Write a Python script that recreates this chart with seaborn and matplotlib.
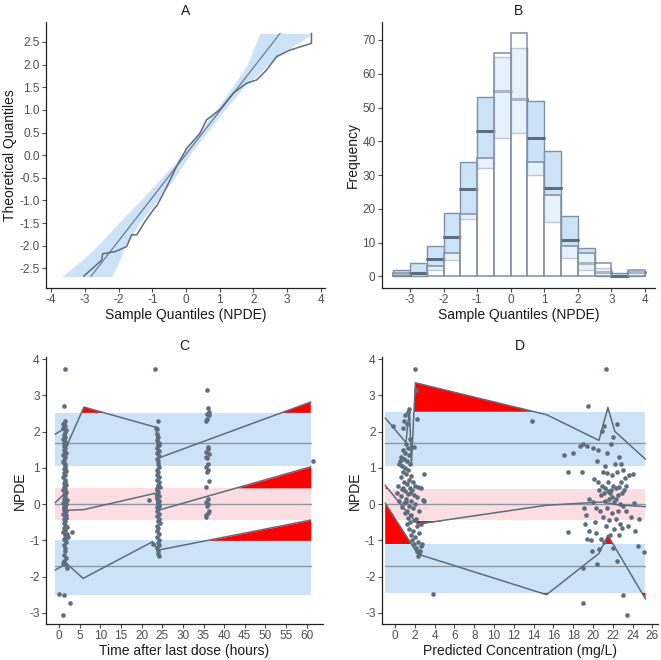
import numpy as np
import pandas as pd
import matplotlib
matplotlib.use("Agg")
import matplotlib.pyplot as plt
import seaborn as sns

# ---> Data <---
# - A: QQ plot -
qq_sample = [-3.04, -2.5, -2.47, -2.1, -1.76, -1.61, -1.46, -1.2, -0.97, -0.85, -0.57, -0.28, 0.02, 0.41, 0.61, 1.0, 1.4, 1.8, 2.09, 2.39, 2.69, 3.08, 3.72, 3.72]
qq_theor = [-2.68, -2.32, -2.18, -2.13, -2.02, -1.76, -1.76, -1.45, -1.21, -1.1, -0.7, -0.25, 0.15, 0.48, 0.78, 1.0, 1.37, 1.59, 1.66, 1.88, 2.18, 2.32, 2.47, 2.69]
ref_x = [-2.82, 2.79]
ref_y = [-2.68, 2.69]
band_y = [-2.68, -2.3, -2.0, -1.5, -1.0, -0.5, 0.0, 0.5, 1.0, 1.5, 2.0, 2.3, 2.69]
band_lo = [-3.68, -3.05, -2.62, -2.0, -1.35, -0.72, -0.12, 0.38, 0.88, 1.38, 1.82, 1.98, 2.19]
band_hi = [-2.2, -1.95, -1.8, -1.38, -0.85, -0.33, 0.1, 0.62, 1.15, 1.72, 2.45, 2.95, 3.77]

# - B: histogram -
bin_left = [-3.5, -3.0, -2.5, -2.0, -1.5, -1.0, -0.5, 0.0, 0.5, 1.0, 1.5, 2.0, 2.5, 3.0, 3.5]
obs_count = [1, 0, 3, 7, 18.4, 35, 66, 72, 34, 24.2, 9, 6.9, 3.9, 0, 2]
pi_lo = [0, 0, 1.8, 4.9, 17, 32, 41, 42.4, 30, 16, 5.4, 2.0, 0, 0, 0]
pi_med = [0.5, 1.0, 5.1, 11.8, 25.8, 43, 55, 52.6, 41, 26.1, 10.8, 3.9, 1.2, 0.2, 1.2]
pi_hi = [2.0, 3.9, 8.9, 18.9, 34, 53, 65, 67.6, 52, 37, 17.9, 8.4, 2.5, 1.0, 1.2]

# - C: NPDE vs time after last dose -
c_time = [1.5, 1.1, 1.3, 1.2, 1.0, 1.4, 0.9, 1.6, 1.3, 1.2, 1.5, 1.0, 1.4, 1.7, 1.2, 1.5, 1.1, 1.3, 1.6, 0.9,
          1.4, 1.2, 1.0, 1.5, 1.3, 1.1, 1.6, 1.2, 1.4, 1.0, 1.5, 1.3, 1.1, 1.7, 1.2, 1.4, 0.9, 1.6, 1.3, 1.1,
          1.5, 1.2, 1.8, 1.4, 1.0, 1.6, 1.3, 1.1, 1.5, 1.2, 1.7, 1.4, 1.0, 1.3, 1.6, 1.2, 1.5, 1.1, 1.4, 1.8,
          1.2, 1.5, 1.0, 2.0, 1.3, 1.6, 1.1, 1.4, 1.7, 1.2, 1.5, 1.3, 1.1, 1.6, 1.2, 1.4, 1.0, 1.8, 3.0, 2.2,
          0.0, 1.2, 2.7, 1.0, 1.3, 1.5, 1.2, 1.4, 1.1, 1.6,
          23.2, 23.9, 23.4, 23.6, 23.8, 24.0, 23.7, 24.2, 23.9, 23.6, 24.1, 23.8, 24.3, 23.7, 24.0, 23.9, 24.2,
          23.6, 24.0, 23.8, 24.3, 23.7, 24.1, 23.9, 24.4, 23.6, 24.0, 23.8, 24.2, 23.7, 24.1, 23.9, 24.3, 23.6,
          24.0, 23.8, 24.2, 23.7, 24.1, 23.9, 24.4, 23.6, 24.0, 23.8, 24.2, 23.7, 24.1, 23.9, 24.3, 23.8, 24.0,
          23.9, 24.1, 21.8, 22.7, 24.3, 23.8, 24.2,
          35.8, 36.1, 36.3, 35.9, 36.4, 35.9, 35.6, 36.2, 36.0, 35.7, 36.3, 35.5, 35.9, 36.1, 35.6, 36.2, 35.8,
          36.4, 35.7, 36.0, 35.6, 36.2, 35.9, 36.3, 36.1, 35.7, 35.5,
          61.5]
c_npde = [3.72, 2.72, 2.3, 2.25, 2.2, 2.15, 2.1, 2.05, 1.98, 1.9, 1.85, 1.8, 1.72, 1.65, 1.6, 1.55, 1.5, 1.45, 1.4, 1.35,
          1.3, 1.22, 1.15, 1.12, 1.05, 0.98, 0.92, 0.86, 0.8, 0.74, 0.68, 0.62, 0.57, 0.52, 0.47, 0.42, 0.38, 0.33, 0.28, 0.24,
          0.2, 0.15, 0.12, 0.08, 0.04, 0.0, -0.04, -0.08, -0.12, -0.16, -0.2, -0.24, -0.28, -0.33, -0.38, -0.42, -0.47, -0.52, -0.57, -0.62,
          -0.67, -0.72, -0.78, -0.82, -0.86, -0.9, -0.95, -1.0, -1.05, -1.12, -1.2, -1.3, -1.4, -1.5, -1.58, -1.65, -1.62, -1.75, -0.77, -0.9,
          -2.48, -2.5, -2.72, -3.05, 0.55, 0.3, -0.1, 1.0, 1.7, -0.3,
          3.72, 2.3, 2.1, 2.08, 1.95, 1.85, 1.78, 1.7, 1.62, 1.55, 1.48, 1.4, 1.33, 1.25, 1.18, 1.1, 1.02,
          0.95, 0.88, 0.8, 0.74, 0.67, 0.6, 0.53, 0.47, 0.4, 0.34, 0.28, 0.22, 0.16, 0.1, 0.04, -0.02, -0.08,
          -0.14, -0.2, -0.27, -0.33, -0.4, -0.47, -0.53, -0.6, -0.67, -0.74, -0.82, -0.9, -0.98, -1.06, -1.14, -1.22, -1.3,
          -1.38, -1.43, 0.12, -1.1, 1.62, 0.45, -0.05,
          3.15, 2.65, 2.55, 2.48, 2.45, 2.35, 2.3, 1.58, 1.52, 1.45, 1.38, 1.3, 1.28, 1.12, 1.02, 0.95, 0.9,
          0.65, 0.48, 0.15, 0.05, 0.0, -0.05, -0.18, -0.25, -0.3, -0.35,
          1.2]
c_band_x = [-1.0, 61.0]
c_bands = {"upper": (1.05, 2.52, 1.7), "middle": (-0.43, 0.45, 0.0), "lower": (-2.52, -1.0, -1.7)}
c_p95_x = [-1.0, 1.5, 1.8, 6.0, 23.5, 24.0, 61.0]
c_p95_y = [1.93, 2.1, 1.6, 2.68, 2.12, 1.27, 2.82]
c_p50_x = [-1.0, 1.4, 1.8, 6.0, 23.3, 24.0, 61.0]
c_p50_y = [0.04, 0.3, -0.17, -0.15, 0.3, -0.17, 1.03]
c_p05_x = [-1.0, 1.8, 5.8, 22.6, 24.0, 61.0]
c_p05_y = [-1.82, -1.64, -2.05, -1.04, -1.27, -0.44]

# - D: NPDE vs predicted concentration -
d_pred = [-0.2, 1.0, 0.9, 1.4, 1.3, 1.2, 0.8, 1.5, 1.1, 1.3, 0.8, 1.0, 1.4, 0.6, 0.9, 1.2, 0.5, 1.5, 0.7, 1.0,
          0.4, 1.3, 0.8, 1.1, 1.6, 0.6, 1.4, 1.8, 0.9, 1.2, 2.0, 0.3, 1.5, 2.3, 0.7, 1.7, 1.0, 2.6, 0.2, 1.3,
          1.9, 0.6, 2.2, 1.1, 2.8, 0.4, 1.6, 2.9, 0.9, 2.0, 1.4, 0.7, 1.8, 1.2, 2.4, 1.0, 1.6, 1.3, 2.1, 1.5,
          1.2, 2.2, 1.4, 1.8, 2.4, 1.6, 2.0, 1.7, 2.3, 1.9, 2.6, 2.1, 2.2, 2.4, 2.3, 2.7, 2.5, 1.9, 2.2, 2.0,
          2.15, 2.9, 3.8, 1.1, 1.5, 0.8, 1.9, 2.6,
          13.8, 19.5, 21.3, 17.1, 17.5, 17.5, 18.0, 18.7, 19.0, 18.9, 19.0, 19.0, 19.4, 19.6, 19.1, 19.3, 19.2,
          19.6, 19.4, 19.8, 19.9, 20.1, 20.0, 20.2, 20.3, 20.4, 20.5, 20.5, 20.6, 20.8, 20.7, 20.6, 20.4, 20.9,
          21.1, 21.2, 21.0, 20.9, 21.1, 21.2, 21.0, 21.3, 21.1, 21.4, 21.5, 21.5, 21.6, 21.4, 21.6, 21.7, 21.8,
          21.8, 21.9, 21.9, 22.0, 22.0, 22.1, 22.1, 22.2, 22.3, 22.3, 22.4, 22.4, 22.5, 22.4, 22.6, 22.6, 22.7,
          22.7, 22.8, 22.8, 22.9, 22.9, 23.0, 23.0, 23.1, 23.0, 23.2, 23.3, 23.4, 23.5, 23.6, 23.8, 24.0, 24.2,
          24.5, 24.1, 25.2, 24.6, 20.3, 21.2, 21.7, 22.0, 22.6, 20.8, 21.4, 20.0, 21.9, 22.3, 23.3, 22.5]
d_npde = [2.15, 2.45, 2.3, 2.62, 2.55, 2.2, 2.1, 1.8, 1.65, 1.55, 1.5, 1.42, 1.35, 1.3, 1.25, 1.2, 1.18, 1.12, 1.05, 1.0,
          1.1, 0.95, 0.9, 0.82, 0.78, 0.75, 0.68, 0.62, 0.6, 0.55, 0.5, 0.5, 0.45, 0.48, 0.42, 0.38, 0.35, 0.45, 0.3, 0.28,
          0.25, 0.22, 0.2, 0.15, 0.12, 0.1, 0.08, 0.08, 0.02, 0.0, -0.05, -0.08, -0.12, -0.18, -0.2, -0.25, -0.3, -0.38, -0.42, -0.5,
          -0.55, -0.6, -0.68, -0.75, -0.8, -0.85, -0.92, -1.0, -1.05, -1.1, -1.15, -1.2, -1.28, -1.35, -1.42, -1.1, -1.3, 1.57, 2.35, 3.72,
          3.15, 0.82, -2.48, 0.05, 0.3, 0.45, -0.45, -0.55,
          2.3, 2.7, 3.72, 1.37, 0.88, -0.77, 1.4, 1.6, 1.65, 0.9, -1.75, -2.72, 1.6, 0.15, -0.1, -0.3, -0.55,
          -0.75, -0.95, -1.0, -1.3, 0.7, 0.05, -0.5, -0.8, 1.2, 0.6, 1.5, 0.4, 0.25, -0.2, -1.25, -1.65, 2.02,
          2.15, 1.05, 0.9, 0.5, 0.3, 0.1, -0.35, -0.6, -1.05, 0.85, 0.6, 0.35, 0.15, -0.1, -0.45, -0.85, 1.65,
          0.4, 0.2, -0.25, 1.85, 0.5, 0.05, -0.7, 1.1, 0.45, -0.4, 2.2, 0.9, 0.25, -1.58, 1.3, 0.48, 0.0,
          -0.55, 1.1, 0.62, 0.3, -0.65, 0.95, -0.05, 0.4, -2.5, 0.72, -0.2, -3.05, -0.6, 0.8, -0.35, 0.82, -0.75,
          -1.15, 0.03, -1.33, -0.4, -0.1, 0.45, 0.3, -1.2, -0.85, -0.95, 1.4, 1.55, 0.8, 0.15, 0.5, -0.2]
d_band_x = [-1.0, 25.3]
d_bands = {"upper": (1.05, 2.55, 1.7), "middle": (-0.45, 0.43, 0.0), "lower": (-2.45, -1.1, -1.7)}
d_p95_x = [-1.0, 1.1, 1.45, 1.65, 2.05, 15.3, 20.6, 21.5, 22.2, 25.3]
d_p95_y = [2.38, 1.7, 2.64, 1.1, 3.35, 2.47, 1.76, 2.67, 2.01, 1.24]
d_p50_x = [-1.0, 1.3, 2.3, 15.3, 21.0, 22.5, 25.3]
d_p50_y = [0.52, -0.25, -0.55, -0.03, 0.06, -0.02, -0.07]
d_p05_x = [-1.0, 2.3, 15.3, 20.6, 21.5, 25.3]
d_p05_y = [0.03, -1.38, -2.5, -1.36, -0.86, -2.62]

# ---> Styling <---
sns.set_theme(style="ticks")
plt.rcParams["font.family"] = ["Liberation Sans", "DejaVu Sans"]
plt.rcParams["axes.unicode_minus"] = False
slate = "#5d6d7e"
blue_band = "#cce3f7"
pink_band = "#fbdde2"
median_gray = "#8c97a3"
edge_col = "#7f90a3"
tick_col = "#4d4d4d"

fig = plt.figure(figsize=(6.61, 6.60), dpi=100)
ax_a = fig.add_axes([0.0696, 0.5636, 0.422, 0.403])
ax_b = fig.add_axes([0.5775, 0.5636, 0.4135, 0.403])
ax_c = fig.add_axes([0.0696, 0.0545, 0.4186, 0.405])
ax_d = fig.add_axes([0.5775, 0.0545, 0.4185, 0.405])


def style_axis(ax, title, xlabel, ylabel):
    ax.set_title(title, fontsize=10, pad=5, color="#1a1a1a")
    ax.set_xlabel(xlabel, fontsize=10, labelpad=1, color="#1a1a1a")
    ax.set_ylabel(ylabel, fontsize=10, labelpad=2, color="#1a1a1a")
    ax.tick_params(labelsize=8.5, colors=tick_col, length=3, width=0.8, pad=1.5)
    for s in ["left", "bottom"]:
        ax.spines[s].set_linewidth(0.9)
        ax.spines[s].set_color("#222222")
    sns.despine(ax=ax)


# - A -
ax_a.fill_betweenx(band_y, band_lo, band_hi, color=blue_band, lw=0, zorder=1)
sns.lineplot(x=ref_x, y=ref_y, ax=ax_a, color=slate, lw=1.0, alpha=0.8, sort=False, zorder=3)
sns.lineplot(x=qq_sample, y=qq_theor, ax=ax_a, color=slate, lw=1.1, sort=False, estimator=None, zorder=4)
ax_a.set_xlim(-4.15, 4.12)
ax_a.set_ylim(-2.935, 2.94)
ax_a.set_xticks(np.arange(-4, 5, 1))
ax_a.set_yticks(np.arange(-2.5, 2.6, 0.5))
ax_a.set_yticklabels([f"{v:.1f}" for v in np.arange(-2.5, 2.6, 0.5)])
style_axis(ax_a, "A", "Sample Quantiles (NPDE)", "Theoretical Quantiles")

# - B -
width = 0.5
for left, ob, lo, med, hi in zip(bin_left, obs_count, pi_lo, pi_med, pi_hi):
    ax_b.bar(left, hi - lo, bottom=lo, width=width, align="edge", color=blue_band,
             edgecolor=edge_col, linewidth=1.0, zorder=2)
    ax_b.plot([left, left + width], [med, med], color=slate, lw=2.2, zorder=3)
    if ob > 0:
        ax_b.bar(left, ob, width=width, align="edge", color=(1, 1, 1, 0.5),
                 edgecolor=edge_col, linewidth=1.1, zorder=4)
ax_b.set_xlim(-3.84, 4.30)
ax_b.set_ylim(-3.43, 75.3)
ax_b.set_xticks(np.arange(-3, 5, 1))
ax_b.set_yticks(np.arange(0, 71, 10))
style_axis(ax_b, "B", "Sample Quantiles (NPDE)", "Frequency")


# - C and D -
def npde_panel(ax, band_x, bands, lines, xs, ys):
    for name, (lo, hi, med) in bands.items():
        col = pink_band if name == "middle" else blue_band
        ax.fill_between(band_x, [lo, lo], [hi, hi], color=col, lw=0, zorder=1)
        ax.plot(band_x, [med, med], color=median_gray, lw=1.0, zorder=2)
    for (lx, ly), (lo, hi, med) in zip(lines, bands.values()):
        lx = np.array(lx)
        ly = np.array(ly)
        ax.fill_between(lx, ly, hi, where=ly > hi, interpolate=True, color="#ff0000", lw=0, zorder=2.5)
        ax.fill_between(lx, ly, lo, where=ly < lo, interpolate=True, color="#ff0000", lw=0, zorder=2.5)
    sns.scatterplot(x=xs, y=ys, ax=ax, color=slate, s=11, linewidth=0, zorder=3)
    for lx, ly in lines:
        sns.lineplot(x=lx, y=ly, ax=ax, color=slate, lw=1.1, sort=False, estimator=None, zorder=4)


npde_panel(ax_c, c_band_x, c_bands,
           [(c_p95_x, c_p95_y), (c_p50_x, c_p50_y), (c_p05_x, c_p05_y)], c_time, c_npde)
ax_c.set_xlim(-3.2, 63.9)
ax_c.set_ylim(-3.31, 4.07)
ax_c.set_xticks(np.arange(0, 61, 5))
ax_c.set_yticks(np.arange(-3, 5, 1))
style_axis(ax_c, "C", "Time after last dose (hours)", "NPDE")

npde_panel(ax_d, d_band_x, d_bands,
           [(d_p95_x, d_p95_y), (d_p50_x, d_p50_y), (d_p05_x, d_p05_y)], d_pred, d_npde)
ax_d.set_xlim(-1.35, 26.6)
ax_d.set_ylim(-3.31, 4.07)
ax_d.set_xticks(np.arange(0, 27, 2))
ax_d.set_yticks(np.arange(-3, 5, 1))
style_axis(ax_d, "D", "Predicted Concentration (mg/L)", "NPDE")

plt.savefig("out.png", dpi=100)
plt.close()
